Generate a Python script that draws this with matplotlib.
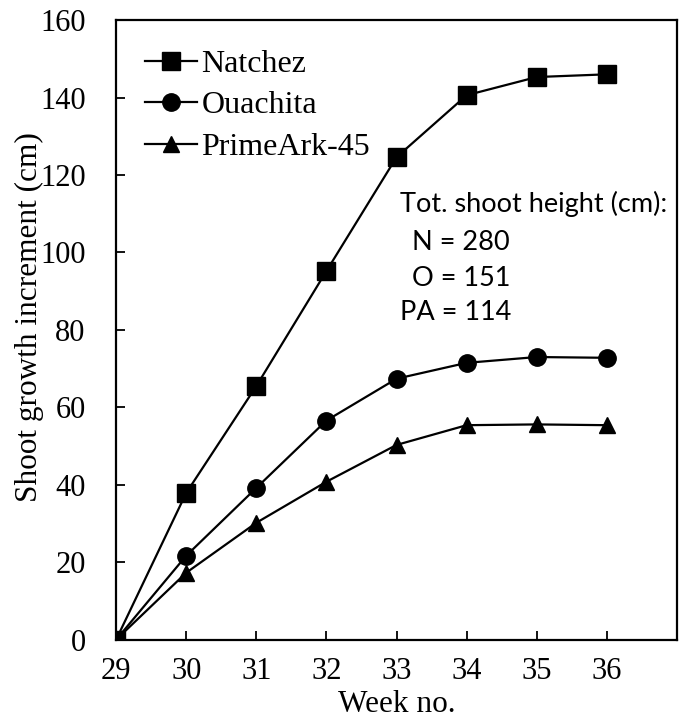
import matplotlib.pyplot as plt

weeks = [29, 30, 31, 32, 33, 34, 35, 36]
natchez = [0, 37.9, 65.5, 95.2, 124.6, 140.6, 145.3, 146.0]
ouachita = [0, 21.7, 39.2, 56.6, 67.4, 71.5, 73.0, 72.8]
primeark = [0, 17.3, 30.2, 40.8, 50.3, 55.4, 55.6, 55.4]

series_names = ['Natchez', 'Ouachita', 'PrimeArk-45']
total_lines = ['Tot. shoot height (cm):', 'N = 280', 'O = 151', 'PA = 114']

plt.rcParams['font.family'] = ['Liberation Serif', 'DejaVu Serif']

fig = plt.figure(figsize=(6.79, 7.18), dpi=100)
ax = fig.add_axes([0.171, 0.109, 0.826, 0.863])

ax.plot(weeks, natchez, 'k-', marker='s', markersize=13, linewidth=1.6, label=series_names[0])
ax.plot(weeks, ouachita, 'k-', marker='o', markersize=12.5, linewidth=1.6, label=series_names[1])
ax.plot(weeks, primeark, 'k-', marker='^', markersize=11.5, linewidth=1.6, label=series_names[2])

ax.set_xlim(29, 37)
ax.set_ylim(0, 160)
ax.set_xticks(weeks)
ax.set_yticks(range(0, 161, 20))
ax.tick_params(direction='in', length=6.5, width=1.3, labelsize=22)
ax.tick_params(axis='x', pad=12.5)
ax.tick_params(axis='y', pad=22)
for s in ax.spines.values():
    s.set_linewidth(1.6)

ax.set_xlabel('Week no.', fontsize=22.5)
ax.xaxis.set_label_coords(0.5, -0.0815)
ax.set_ylabel('Shoot growth increment (cm)', fontsize=22.5)
ax.yaxis.set_label_coords(-0.128, 0.52)

ax.legend(loc='upper left', frameon=False, fontsize=23, handlelength=1.6,
          handletextpad=0.15, borderaxespad=0.52, labelspacing=0.38)

xs = [33.05, 33.22, 33.22, 33.05]
ys = [112.5, 102.7, 93.4, 84.4]
for line, x, y in zip(total_lines, xs, ys):
    ax.text(x, y, line, fontsize=19.5, family=['Lato', 'DejaVu Sans'], va='center')

fig.savefig('out.png', dpi=100)
